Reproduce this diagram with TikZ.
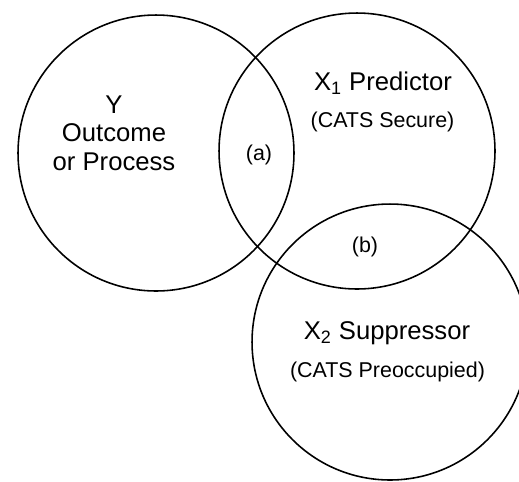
\documentclass[tikz,border=0pt]{standalone}
\usepackage{fontspec}
\setmainfont{Liberation Sans}
\newcommand{\scalefactor}{1.00}

\begin{document}
\begin{tikzpicture}[x=0.02cm,y=-0.02cm,scale=\scalefactor,
  venn/.style={circle,draw,line width=0.9pt,minimum size=5.52cm,inner sep=0pt},
  bigtext/.style={font=\fontsize{14.6}{16.2}\selectfont,align=center},
  smalltext/.style={font=\fontsize{12.2}{14}\selectfont}]
\clip (0,0) rectangle (519,481);
% the three sets
\node[venn] (ycirc) at (156,153) {};
\node[venn] (xonecirc) at (357,151) {};
\node[venn] (xtwocirc) at (390,342) {};
% labels
\node[bigtext] (ylabel) at (114,133) {Y\\Outcome\\or Process};
\node[bigtext] (xonelabel) at (383,83) {X\textsubscript{1} Predictor};
\node[smalltext] (xonesub) at (382.5,122) {(CATS Secure)};
\node[bigtext] (xtwolabel) at (387,333) {X\textsubscript{2} Suppressor};
\node[smalltext] (xtwosub) at (387.5,372) {(CATS Preoccupied)};
\node[smalltext] (alabel) at (259,155) {(a)};
\node[smalltext] (blabel) at (365,247) {(b)};
\end{tikzpicture}
\end{document}
